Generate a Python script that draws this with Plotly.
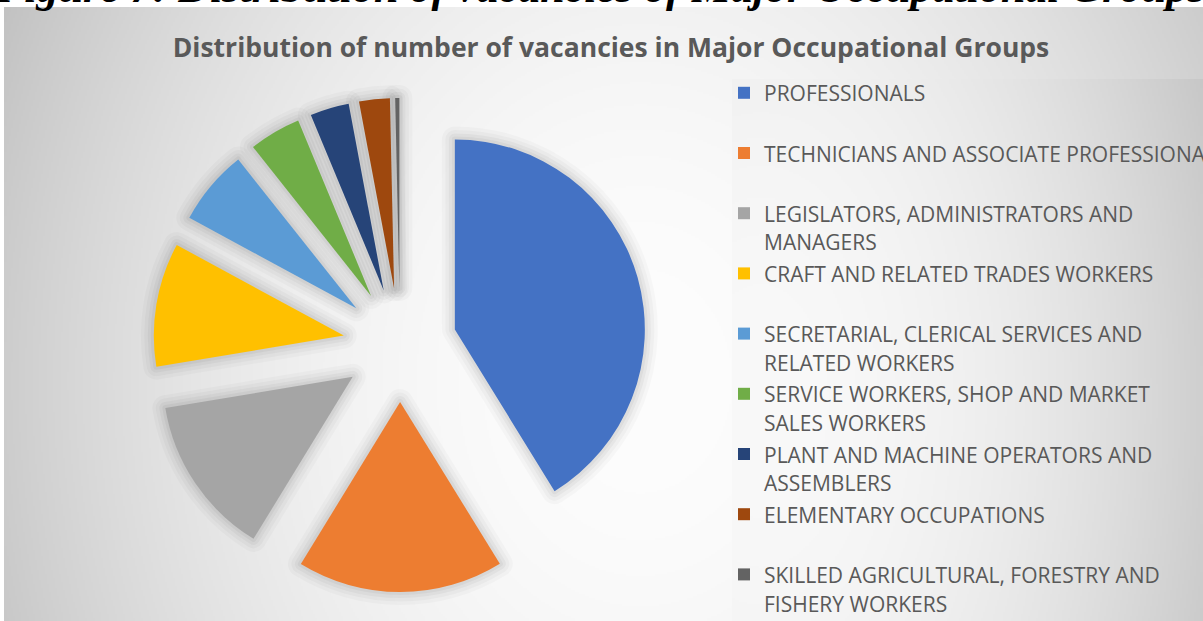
import base64, struct, zlib
import numpy as np
import plotly.graph_objects as go

W, H = 1203, 621

# ---- data (percentage of vacancies) ----
labels = [
    "PROFESSIONALS",
    "TECHNICIANS AND ASSOCIATE PROFESSIONALS",
    "LEGISLATORS, ADMINISTRATORS AND MANAGERS",
    "CRAFT AND RELATED TRADES WORKERS",
    "SECRETARIAL, CLERICAL SERVICES AND RELATED WORKERS",
    "SERVICE WORKERS, SHOP AND MARKET SALES WORKERS",
    "PLANT AND MACHINE OPERATORS AND ASSEMBLERS",
    "ELEMENTARY OCCUPATIONS",
    "SKILLED AGRICULTURAL, FORESTRY AND FISHERY WORKERS",
]
legend_lines = [
    ["PROFESSIONALS"],
    ["TECHNICIANS AND ASSOCIATE PROFESSIONALS"],
    ["LEGISLATORS, ADMINISTRATORS AND", "MANAGERS"],
    ["CRAFT AND RELATED TRADES WORKERS"],
    ["SECRETARIAL, CLERICAL SERVICES AND", "RELATED WORKERS"],
    ["SERVICE WORKERS, SHOP AND MARKET", "SALES WORKERS"],
    ["PLANT AND MACHINE OPERATORS AND", "ASSEMBLERS"],
    ["ELEMENTARY OCCUPATIONS"],
    ["SKILLED AGRICULTURAL, FORESTRY AND", "FISHERY WORKERS"],
]
values = [41.1, 17.5, 13.6, 10.5, 6.4, 4.4, 3.3, 2.6, 0.35]
colors = ["#4472C4", "#ED7D31", "#A5A5A5", "#FFC000", "#5B9BD5",
          "#70AD47", "#264478", "#9E480E", "#636363"]

title_text = "Distribution of number of vacancies in Major Occupational Groups"
caption_text = "Figure 7: Distribution of vacancies of Major Occupational Groups"


def png_uri(arr):
    arr = np.clip(arr, 0, 255).astype(np.uint8)
    h, w = arr.shape
    raw = b"".join(b"\x00" + arr[i].tobytes() for i in range(h))
    def chunk(t, d):
        c = struct.pack(">I", len(d)) + t + d
        return c + struct.pack(">I", zlib.crc32(t + d) & 0xffffffff)
    png = b"\x89PNG\r\n\x1a\n" + chunk(b"IHDR", struct.pack(">IIBBBBB", w, h, 8, 0, 0, 0, 0)) \
        + chunk(b"IDAT", zlib.compress(raw, 9)) + chunk(b"IEND", b"")
    return "data:image/png;base64," + base64.b64encode(png).decode()


# chart-area radial gradient
x0, y0, x1, y1 = 4, 7, W, H
xs = np.arange(x0, x1, 2.0)
ys = np.arange(y0, y1, 2.0)
X, Y = np.meshgrid(xs, ys)
r2 = ((X - 640) / 650) ** 2 + ((Y - 380) / 800) ** 2
bg = 253 - 50 * np.minimum(r2, 1.5)
bg_uri = png_uri(bg)

# legend-box gradient
lx0, ly0 = 732, 79
xs2 = np.arange(lx0, W, 2.0)
ys2 = np.arange(ly0, H, 2.0)
X2, Y2 = np.meshgrid(xs2, ys2)
r22 = ((X2 - 760) / 520) ** 2 + ((Y2 - 400) / 900) ** 2
lg = 249 - 58 * np.minimum(r22, 1.5)
lg_uri = png_uri(lg)


def leg_text(lines):
    parts = [f"<span style='font-size:21px'>{t}</span>" for t in lines]
    if len(parts) == 1:
        parts.append(" ")
    return "<br>".join(parts)


legend_labels = [leg_text(l) for l in legend_lines]

# pie geometry: centre (400,345), radius 190, pull 0.3
cx, cy, rad, pull = 400, 345, 190, 0.3
half = rad * (1 + pull)
dom_x = [(cx - half) / W, (cx + half) / W]
dom_y = [1 - (cy + half) / H, 1 - (cy - half) / H]

fig = go.Figure()
# soft shadow halo under the slices
for k, (lw, a) in enumerate([(26, 0.022), (19, 0.028), (12, 0.034), (6, 0.04)]):
    fig.add_trace(go.Pie(
        labels=[f"shadow{k}_{i}" for i in range(len(values))], values=values,
        sort=False, direction="clockwise", rotation=0, pull=[pull] * len(values),
        textinfo="none", showlegend=False, hoverinfo="skip",
        marker=dict(colors=["rgba(0,0,0,0)"] * len(values),
                    line=dict(width=lw, color=f"rgba(0,0,0,{a})")),
        domain=dict(x=dom_x, y=dom_y),
    ))
fig.add_trace(go.Pie(
    labels=legend_labels, values=values, sort=False, direction="clockwise",
    rotation=0, pull=[pull] * len(values), textinfo="none",
    marker=dict(colors=colors, line=dict(width=0)),
    domain=dict(x=dom_x, y=dom_y), hoverinfo="label+percent",
))

fig.update_layout(
    width=W, height=H,
    margin=dict(l=0, r=0, t=0, b=0, autoexpand=False),
    paper_bgcolor="white", plot_bgcolor="white",
    title=dict(text=title_text, x=611 / W, xanchor="center", y=1 - 48 / H, yanchor="middle",
               font=dict(family="Open Sans", size=26.5, color="#595959", weight="bold")),
    legend=dict(x=724 / W, xanchor="left", y=1 - 72 / H, yanchor="top",
                font=dict(family="Open Sans", size=22, color="#595959"),
                bgcolor="rgba(0,0,0,0)", borderwidth=0, valign="top",
                traceorder="normal"),
    images=[
        dict(source=bg_uri, xref="paper", yref="paper", x=x0 / W, y=1 - y0 / H,
             sizex=(x1 - x0) / W, sizey=(y1 - y0) / H, xanchor="left", yanchor="top",
             sizing="stretch", layer="below"),
        dict(source=lg_uri, xref="paper", yref="paper", x=lx0 / W, y=1 - ly0 / H,
             sizex=(W - lx0) / W, sizey=(H - ly0) / H, xanchor="left", yanchor="top",
             sizing="stretch", layer="below"),
    ],
    annotations=[dict(text=caption_text, xref="paper", yref="paper", x=-8 / W, xanchor="left",
                      y=1 + 12.5 / H, yanchor="middle", showarrow=False,
                      font=dict(family="Liberation Serif", size=44, color="black",
                                weight="bold", style="italic"))],
)

fig.write_html("out.html", config={"displayModeBar": False},
               post_script="document.body.style.margin='0';document.body.style.overflow='hidden';")
